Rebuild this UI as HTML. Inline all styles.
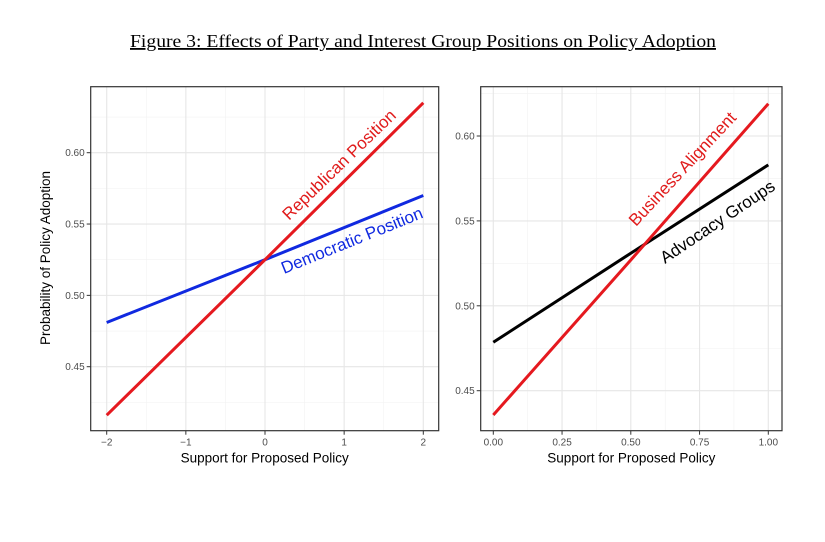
<!DOCTYPE html>
<html><head><meta charset="utf-8"><style>
body{margin:0;background:#fff;width:825px;height:537px;overflow:hidden}
svg text{font-family:"Liberation Sans",sans-serif}
</style></head><body>
<svg width="825" height="537" id="fig">
<text x="130" y="47" textLength="586" lengthAdjust="spacingAndGlyphs" style="font-family:'Liberation Serif',serif" font-size="18" text-decoration="underline">Figure 3: Effects of Party and Interest Group Positions on Policy Adoption</text>
</svg>
<script>
const leftX=[-2,0,2];
const leftRep=[0.416,0.525,0.635];
const leftDem=[0.481,0.525,0.570];
const leftXTicks=[-2,-1,0,1,2];
const leftXTickLabels=["\u22122","\u22121","0","1","2"];
const leftYTicks=[0.45,0.50,0.55,0.60];
const leftYTickLabels=["0.45","0.50","0.55","0.60"];
const rightX=[0,0.5,1];
const rightBus=[0.4357,0.527,0.619];
const rightAdv=[0.4785,0.531,0.583];
const rightXTicks=[0,0.25,0.5,0.75,1];
const rightXTickLabels=["0.00","0.25","0.50","0.75","1.00"];
const rightYTicks=[0.45,0.50,0.55,0.60];
const rightYTickLabels=["0.45","0.50","0.55","0.60"];

const NS="http://www.w3.org/2000/svg";
const svg=document.getElementById('fig');
function el(tag,attrs,parent){const e=document.createElementNS(NS,tag);for(const k in attrs)e.setAttribute(k,attrs[k]);(parent||svg).appendChild(e);return e;}

function panel(p){
  const sx=v=>p.px0+(v-p.x0)*(p.px1-p.px0)/(p.x1-p.x0);
  const sy=v=>p.py0+(v-p.y0)*(p.py1-p.py0)/(p.y1-p.y0);
  const g=el('g',{});
  
  
  const xs=p.xTicks, ys=p.yTicks;
  const dx=xs[1]-xs[0], dy=ys[1]-ys[0];
  for(let v=xs[0]-dx/2; v<=xs[xs.length-1]+dx/2+1e-9; v+=dx){const X=sx(v); if(X>p.fx0&&X<p.fx1){const l=el('line',{x1:X,x2:X,y1:p.fy0,y2:p.fy1,stroke:'#f2f2f2','stroke-width':0.6},g);}}
  for(let v=ys[0]-dy*1.5; v<=ys[ys.length-1]+dy*1.5+1e-9; v+=dy){const Y=sy(v); if(Y>p.fy0&&Y<p.fy1){const l=el('line',{x1:p.fx0,x2:p.fx1,y1:Y,y2:Y,stroke:'#f2f2f2','stroke-width':0.6},g);}}
  xs.forEach((v,i)=>{const X=sx(v);
    const l=el('line',{x1:X,x2:X,y1:p.fy0,y2:p.fy1,stroke:'#e6e6e6','stroke-width':1.1},g);
    
    el('line',{x1:X,x2:X,y1:p.fy1,y2:p.fy1+4,stroke:'#333','stroke-width':1},g);
    const t=el('text',{x:X,y:p.fy1+15,'text-anchor':'middle','font-size':10,fill:'#4d4d4d'},g);t.textContent=p.xLabels[i];
    });
  ys.forEach((v,i)=>{const Y=sy(v);
    const l=el('line',{x1:p.fx0,x2:p.fx1,y1:Y,y2:Y,stroke:'#e6e6e6','stroke-width':1.1},g);
    
    el('line',{x1:p.fx0-4,x2:p.fx0,y1:Y,y2:Y,stroke:'#333','stroke-width':1},g);
    const t=el('text',{x:p.fx0-6,y:Y+3.5,'text-anchor':'end','font-size':10,fill:'#4d4d4d'},g);t.textContent=p.yLabels[i];
    });
  p.series.forEach(s=>{
    const d=p.xData.map((v,i)=>(i?'L':'M')+sx(v).toFixed(1)+','+sy(s.vals[i]).toFixed(1)).join(' ');
    const path=el('path',{d:d,fill:'none',stroke:s.color,'stroke-width':3},g);
    
  });
  const fr=el('rect',{x:p.fx0,y:p.fy0,width:p.fx1-p.fx0,height:p.fy1-p.fy0,fill:'none',stroke:'#333','stroke-width':1.2},g);
  
  const xt=el('text',{x:(p.fx0+p.fx1)/2,y:p.fy1+32,'text-anchor':'middle','font-size':13.5,fill:'#000'},g);
  xt.textContent='Support for Proposed Policy';
  
  p.labels.forEach(L=>{
    const t=el('text',{x:L.x,y:L.y,'font-size':17,fill:L.color,transform:`rotate(${L.a} ${L.x} ${L.y})`},g);
    t.textContent=L.text;
  });
  return g;
}
panel({name:'left-panel',x0:-2,x1:2,px0:106.7,px1:423.3,y0:0.45,y1:0.60,py0:366.7,py1:152.7,
 fx0:90.7,fx1:438.7,fy0:86.7,fy1:430.7,xTicks:leftXTicks,yTicks:leftYTicks,xLabels:leftXTickLabels,yLabels:leftYTickLabels,
 xData:leftX,series:[{name:'democratic-line',vals:leftDem,color:'#1029e0'},{name:'republican-line',vals:leftRep,color:'#e5191f'}],
 labels:[{text:'Republican Position',x:289,y:221,a:-44,color:'#e01b1b',name:'republican-label'},
         {text:'Democratic Position',x:284,y:274,a:-22,color:'#1029e0',name:'democratic-label'}]});
panel({name:'right-panel',x0:0,x1:1,px0:493.3,px1:768.3,y0:0.45,y1:0.60,py0:390.7,py1:136,
 fx0:480.7,fx1:782,fy0:86.7,fy1:430.7,xTicks:rightXTicks,yTicks:rightYTicks,xLabels:rightXTickLabels,yLabels:rightYTickLabels,
 xData:rightX,series:[{name:'advocacy-line',vals:rightAdv,color:'#000'},{name:'business-line',vals:rightBus,color:'#e5191f'}],
 labels:[{text:'Business Alignment',x:636,y:227,a:-47,color:'#e01b1b',name:'business-label'},
         {text:'Advocacy Groups',x:665,y:264,a:-34,color:'#000',name:'advocacy-label'}]});
const yt=el('text',{x:50,y:258,'text-anchor':'middle','font-size':13.5,fill:'#000',transform:'rotate(-90 50 258)'});
yt.textContent='Probability of Policy Adoption';


</script>
</body></html>
